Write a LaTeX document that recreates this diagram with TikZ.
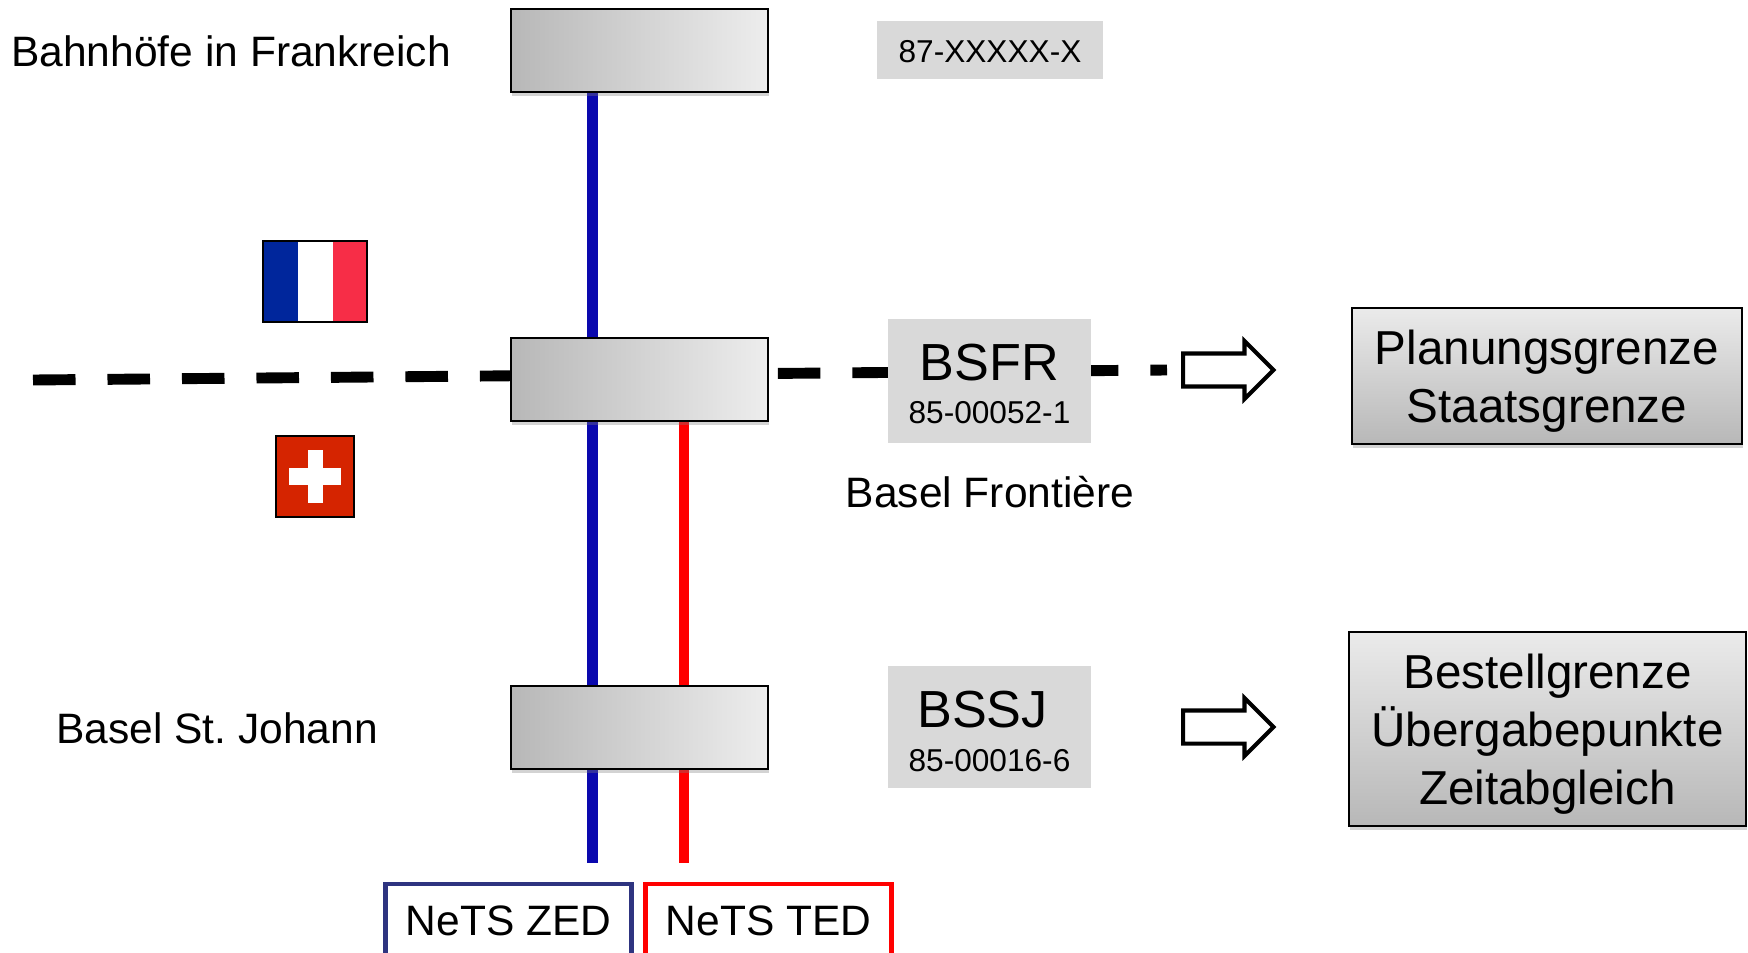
\documentclass[tikz,border=0pt]{standalone}
\usepackage{fontspec}
\setmainfont{Liberation Sans}
\usetikzlibrary{shadows,shapes.arrows,backgrounds}
\definecolor{zedblue}{HTML}{0A08AE}
\definecolor{zednavy}{HTML}{2E3480}
\definecolor{tagfill}{HTML}{D9D9D9}
\definecolor{frblue}{HTML}{00269C}
\definecolor{frred}{HTML}{F72D47}
\definecolor{chred}{HTML}{D52400}
\tikzset{
  bahnhof/.style={draw=black, line width=1.1pt, left color=black!28, right color=black!7,
    minimum width=5.14cm, minimum height=1.66cm,
    drop shadow={shadow xshift=0.6pt, shadow yshift=-2pt, opacity=0.35}},
  grenzbox/.style={draw=black, line width=1.1pt, top color=black!8, bottom color=black!28,
    align=center, font=\fontsize{27.1}{33}\selectfont,
    drop shadow={shadow xshift=0.6pt, shadow yshift=-2pt, opacity=0.35}},
  kuerzel/.style={fill=tagfill, minimum width=4.06cm, align=center},
  pfeil/.style={draw=black, line width=2.3pt, fill=white, single arrow, anchor=tail,
    minimum height=1.81cm, inner sep=0.29cm, single arrow head extend=0.25cm},
  netsbox/.style={draw, line width=2.7pt, fill=white, minimum width=4.92cm, minimum height=1.46cm,
    font=\fontsize{24.2}{30}\selectfont},
  linie/.style={line width=5.7pt},
  beschrift/.style={font=\fontsize{24.2}{30}\selectfont}
}
\newcommand{\gross}{\fontsize{29.7}{36}\selectfont}
\newcommand{\klein}{\fontsize{18}{24}\selectfont}
\begin{document}
\begin{tikzpicture}[x=0.02cm, y=-0.02cm]
  \useasboundingbox (0,0) rectangle (1748,953);

  % Stations
  \node[bahnhof] (frankreich) at (639.5,50.5) {};
  \node[bahnhof] (frontiere) at (639.5,379.5) {};
  \node[bahnhof] (johann) at (639.5,727.5) {};

  % Free ends of the lines
  \coordinate (zedend) at (592.5,863);
  \coordinate (tedend) at (683.5,863);
  \coordinate (grenzeW) at (33,380);
  \coordinate (grenzeE) at (1167,370);

  % Labels on the left
  \node[beschrift, anchor=west, inner sep=0pt] (lblfrankreich) at (11,51) {Bahnhöfe in Frankreich};
  \node[beschrift, anchor=west, inner sep=0pt] (lbljohann) at (56,728) {Basel St.\ Johann};
  \node[beschrift, inner sep=0pt] (lblfrontiere) at (990,492) {Basel Frontière};

  % Station codes
  \node[kuerzel, minimum width=4.52cm, minimum height=1.16cm, font=\klein, text height=14.5pt, text depth=0pt] (tagfr) at (990,50) {87-XXXXX-X};
  \node[kuerzel, minimum height=2.48cm] (bsfr) at (989.5,381) {\rule{0pt}{24.1pt}{\gross BSFR}\\[11pt]{\klein 85-00052-1}};
  \node[kuerzel, minimum height=2.46cm] (bssj) at (989.5,727) {\rule{0pt}{25.5pt}{\gross BSSJ\hspace*{8pt}}\\[11pt]{\klein 85-00016-6}};

  % Arrows and boxes on the right
  \node[pfeil] (pfeiloben) at (1181,370) {};
  \node[pfeil] (pfeilunten) at (1181,727) {};
  \node[grenzbox, minimum width=7.8cm, minimum height=2.72cm] (planung) at (1547,376) {\rule{0pt}{25pt}Planungsgrenze\\Staatsgrenze};
  \node[grenzbox, minimum width=7.94cm, minimum height=3.88cm] (bestell) at (1547.5,729) {\rule{0pt}{25pt}Bestellgrenze\\Übergabepunkte\\Zeitabgleich};

  % NeTS boxes
  \node[netsbox, draw=zednavy] (zed) at (508.5,920.5) {NeTS ZED};
  \node[netsbox, draw=red] (ted) at (768.5,920.5) {NeTS TED};

  % Lines behind the stations
  \begin{scope}[on background layer]
    \draw[linie, zedblue] (frankreich.south -| zedend) -- (johann.north -| zedend);
    \draw[linie, zedblue] (johann.south -| zedend) -- (zedend);
    \draw[linie, red] (frontiere.south -| tedend) -- (johann.north -| tedend);
    \draw[linie, red] (johann.south -| tedend) -- (tedend);
    % Border
    \draw[line width=6.2pt, dash pattern=on 24.2pt off 18.2pt] (grenzeW) -- (grenzeE);
  \end{scope}

  % Flags
  \fill[frblue] (263,241) rectangle (298,322);
  \fill[white] (298,241) rectangle (333,322);
  \fill[frred] (333,241) rectangle (367,322);
  \draw[line width=1pt] (263,241) rectangle (367,322);

  \fill[chred] (276,436) rectangle (354,517);
  \draw[line width=1pt] (276,436) rectangle (354,517);
  \fill[white] (289,468) rectangle (341,485);
  \fill[white] (307.5,450) rectangle (323,503);
\end{tikzpicture}
\end{document}
